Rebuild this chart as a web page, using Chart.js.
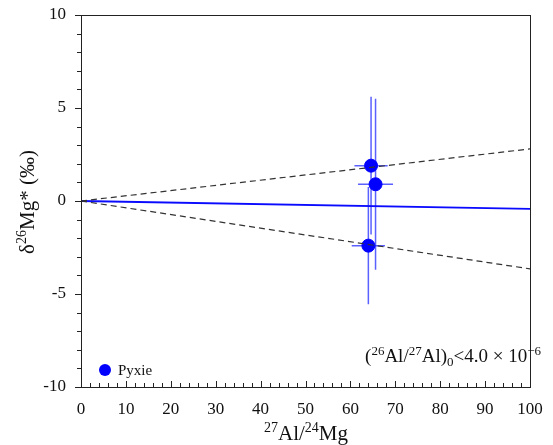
<!DOCTYPE html>
<html>
<head>
<meta charset="utf-8">
<script src="https://cdn.jsdelivr.net/npm/chart.js@4"></script>
<style>
  html, body { margin: 0; padding: 0; background: #fff; }
  #wrap { width: 553px; height: 445px; }
</style>
</head>
<body>
<div id="wrap"><canvas id="chart" width="553" height="445"></canvas></div>
<script>
// Pyxie spots
const alMg = [64.6, 65.6, 64.0];
const delta = [1.9, 0.9, -2.4];
const alMgErr = [3.7, 3.9, 3.7];
const deltaErr = [3.7, 4.6, 3.15];

// isochron lines, value at x=0 and x=100
const lineX = [0, 100];
const fitY = [0, -0.42];
const upperY = [0, 2.8];
const lowerY = [0, -3.65];

const xTicks = [0, 10, 20, 30, 40, 50, 60, 70, 80, 90, 100];
const yTicks = [-10, -5, 0, 5, 10];

const serif = "'Liberation Serif', 'DejaVu Serif', serif";

const toPts = (xs, ys) => xs.map((x, i) => ({ x: x, y: ys[i] }));

// error bars, minor ticks, frame, titles, legend, note
const extras = {
  id: 'extras',
  beforeDatasetsDraw(chart) {
    const { ctx, scales: { x, y } } = chart;
    ctx.save();
    ctx.strokeStyle = 'rgba(20,30,255,0.7)';
    ctx.lineWidth = 1.5;
    alMg.forEach((v, i) => {
      const px = x.getPixelForValue(v);
      const py = y.getPixelForValue(delta[i]);
      ctx.beginPath();
      ctx.moveTo(px, y.getPixelForValue(delta[i] + deltaErr[i]));
      ctx.lineTo(px, y.getPixelForValue(delta[i] - deltaErr[i]));
      ctx.moveTo(x.getPixelForValue(v - alMgErr[i]), py);
      ctx.lineTo(x.getPixelForValue(v + alMgErr[i]), py);
      ctx.stroke();
    });
    ctx.restore();
  },
  afterDraw(chart) {
    const { ctx, chartArea: a, scales: { x, y } } = chart;
    ctx.save();
    ctx.strokeStyle = '#222';
    ctx.lineWidth = 1;
    ctx.strokeRect(a.left + 0.5, a.top + 0.5, a.right - a.left, a.bottom - a.top);

    // minor ticks
    ctx.beginPath();
    for (let v = -10; v <= 10; v += 1) {
      const py = Math.round(y.getPixelForValue(v)) + 0.5;
      const len = v % 5 === 0 ? 6 : 4;
      ctx.moveTo(a.left - len, py);
      ctx.lineTo(a.left, py);
    }
    for (let v = 0; v <= 100; v += 2) {
      const px = Math.round(x.getPixelForValue(v)) + 0.5;
      const len = v % 10 === 0 ? 6 : 4;
      ctx.moveTo(px, a.bottom - len);
      ctx.lineTo(px, a.bottom);
    }
    ctx.stroke();

    ctx.fillStyle = '#111';
    // x title
    ctx.textBaseline = 'alphabetic';
    drawRich(ctx, [['27', 1], ['Al/', 0], ['24', 1], ['Mg', 0]], 306, 440, 21, 'center');

    // y title
    ctx.save();
    ctx.translate(34, 202);
    ctx.rotate(-Math.PI / 2);
    drawRich(ctx, [['δ', 0], ['26', 1], ['Mg* (‰)', 0]], 0, 0, 21, 'center');
    ctx.restore();

    // note
    drawRich(ctx, [['(', 0], ['26', 1], ['Al/', 0], ['27', 1], ['Al)', 0], ['0', 2], ['<4.0 × 10', 0], ['−6', 1]], 541, 362, 19, 'right');

    // legend
    ctx.fillStyle = '#0000ff';
    ctx.beginPath();
    ctx.arc(105, 370, 6, 0, Math.PI * 2);
    ctx.fill();
    ctx.fillStyle = '#111';
    ctx.font = '15px ' + serif;
    ctx.textAlign = 'left';
    ctx.fillText('Pyxie', 118, 375);
    ctx.restore();
  }
};

// parts: [text, 0 normal | 1 superscript | 2 subscript]
function drawRich(ctx, parts, x, y, size, align) {
  const small = Math.round(size * 0.68);
  let w = 0;
  parts.forEach(p => {
    ctx.font = (p[1] ? small : size) + 'px ' + serif;
    w += ctx.measureText(p[0]).width;
  });
  let cx = align === 'center' ? x - w / 2 : align === 'right' ? x - w : x;
  ctx.textAlign = 'left';
  parts.forEach(p => {
    ctx.font = (p[1] ? small : size) + 'px ' + serif;
    const dy = p[1] === 1 ? -size * 0.38 : p[1] === 2 ? size * 0.22 : 0;
    ctx.fillText(p[0], cx, y + dy);
    cx += ctx.measureText(p[0]).width;
  });
}

new Chart(document.getElementById('chart'), {
  type: 'scatter',
  data: {
    datasets: [
      {
        label: 'upper',
        type: 'line',
        data: toPts(lineX, upperY),
        borderColor: '#333',
        borderWidth: 1.2,
        borderDash: [6, 4],
        pointRadius: 0
      },
      {
        label: 'lower',
        type: 'line',
        data: toPts(lineX, lowerY),
        borderColor: '#333',
        borderWidth: 1.2,
        borderDash: [6, 4],
        pointRadius: 0
      },
      {
        label: 'fit',
        type: 'line',
        data: toPts(lineX, fitY),
        borderColor: '#0a0aff',
        borderWidth: 1.8,
        pointRadius: 0
      },
      {
        label: 'Pyxie',
        data: toPts(alMg, delta),
        backgroundColor: '#0000ff',
        borderColor: '#0000ff',
        pointRadius: 6.5
      }
    ]
  },
  options: {
    responsive: false,
    animation: false,
    layout: { padding: { left: 0, right: 23, top: 15, bottom: 0 } },
    plugins: { legend: { display: false }, tooltip: { enabled: false } },
    scales: {
      x: {
        type: 'linear',
        min: 0,
        max: 100,
        afterBuildTicks: (s) => { s.ticks = xTicks.map(v => ({ value: v })); },
        afterFit: (s) => { s.height = 58; s.paddingLeft = 0; s.paddingRight = 0; },
        grid: { display: false },
        border: { display: false },
        ticks: { color: '#111', font: { family: serif, size: 17 }, padding: 4, maxRotation: 0 }
      },
      y: {
        type: 'linear',
        min: -10,
        max: 10,
        afterBuildTicks: (s) => { s.ticks = yTicks.map(v => ({ value: v })); },
        afterFit: (s) => { s.width = 81; s.paddingTop = 0; s.paddingBottom = 0; },
        grid: { display: false },
        border: { display: false },
        ticks: { color: '#111', font: { family: serif, size: 17 }, padding: 7 }
      }
    }
  },
  plugins: [extras]
});
</script>
</body>
</html>
